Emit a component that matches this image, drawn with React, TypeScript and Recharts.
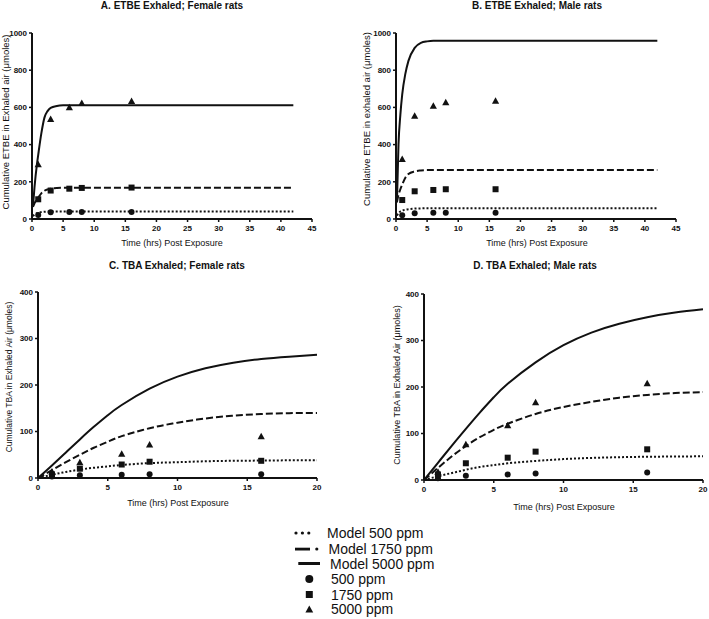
import React from "react";
import { ComposedChart, Line, Scatter, XAxis, YAxis } from "recharts";

// observation times (hrs)
const obsTimes = [1, 3, 6, 8, 16];

// A. ETBE exhaled, female rats
const etbeF500 = [22, 36, 38, 38, 38];
const etbeF1750 = [106, 153, 163, 167, 169];
const etbeF5000 = [294, 537, 601, 623, 634];
const etbeFModelT = [0.15, 0.4, 0.8, 1, 1.5, 2, 2.5, 3, 4, 5, 6, 42];
const etbeFModel500 = [15, 24, 31, 34, 37, 39, 40, 40, 40, 40, 40, 40];
const etbeFModel1750 = [65, 85, 105, 115, 138, 152, 159, 163, 167, 168, 168, 168];
const etbeFModel5000 = [65, 170, 296, 345, 460, 545, 580, 597, 607, 611, 612, 612];

// B. ETBE exhaled, male rats
const etbeM500 = [20, 31, 34, 34, 34];
const etbeM1750 = [102, 149, 156, 160, 160];
const etbeM5000 = [323, 555, 609, 628, 636];
const etbeMModelT = [0.15, 0.4, 0.7, 1, 1.5, 2, 3, 4, 5, 6, 42];
const etbeMModel500 = [18, 32, 40, 45, 50, 53, 56, 57, 58, 58, 58];
const etbeMModel1750 = [90, 130, 160, 185, 222, 242, 256, 261, 263, 263, 263];
const etbeMModel5000 = [90, 400, 560, 670, 780, 850, 920, 947, 955, 958, 959];

// C. TBA exhaled, female rats
const tbaF500 = [3, 6, 7, 8, 8];
const tbaF1750 = [8, 20, 29, 35, 37];
const tbaF5000 = [14, 34, 52, 72, 90];
const tbaModelT = [0, 1, 2, 3, 4, 5, 6, 8, 10, 12, 14, 16, 18, 20];
const tbaFModel500 = [0, 7, 13, 18, 22, 25, 28, 32, 34, 36, 37, 37.5, 38, 38];
const tbaFModel1750 = [0, 17, 34, 50, 65, 78, 90, 107, 119, 128, 134, 137.5, 139.5, 140];
const tbaFModel5000 = [0, 27, 55, 83, 110, 135, 157, 192, 218, 236, 248, 256, 261, 265];

// D. TBA exhaled, male rats
const tbaM500 = [4, 9, 12, 14, 16];
const tbaM1750 = [12, 36, 48, 61, 66];
const tbaM5000 = [18, 77, 118, 167, 208];
const tbaMModel500 = [0, 8, 15, 22, 28, 32, 36, 41, 45, 47.5, 49, 50, 50.5, 51];
const tbaMModel1750 = [0, 26, 51, 73, 92, 108, 121, 142, 157, 168, 177, 183, 187, 189];
const tbaMModel5000 = [0, 37, 74, 110, 145, 178, 207, 253, 290, 317, 336, 350, 360, 367];

const etbeXTicks = [0, 5, 10, 15, 20, 25, 30, 35, 40, 45];
const etbeYTicks = [0, 200, 400, 600, 800, 1000];
const tbaXTicks = [0, 5, 10, 15, 20];
const tbaYTicks = [0, 100, 200, 300, 400];

const FONT = "'Liberation Sans', Arial, sans-serif";
const INK = "#111";

const pts = (ts: number[], vs: number[]) => ts.map((t, i) => ({ t, v: vs[i] }));

const CircleDot = (p: any) => <circle cx={p.cx} cy={p.cy} r={3} fill={INK} />;
const SquareDot = (p: any) => (
  <rect x={p.cx - 3} y={p.cy - 3} width={6} height={6} fill={INK} />
);
const TriDot = (p: any) => (
  <polygon
    points={`${p.cx},${p.cy - 3.5} ${p.cx + 3.6},${p.cy + 3} ${p.cx - 3.6},${p.cy + 3}`}
    fill={INK}
  />
);

const YW = 40;
const XH = 24;

function Panel({ rect, xDomain, xTicks, yDomain, yTicks, modelT, models, obs, curve }: any) {
  const plotW = rect.right - rect.left;
  const plotH = rect.bottom - rect.top;
  return (
    <div style={{ position: "absolute", left: rect.left - YW, top: rect.top - 5 }}>
      <ComposedChart
        width={plotW + YW + 6}
        height={plotH + 5 + XH}
        margin={{ top: 5, right: 6, bottom: 0, left: 0 }}
      >
        <XAxis
          type="number"
          dataKey="t"
          domain={xDomain}
          ticks={xTicks}
          height={XH}
          tickSize={3}
          tickMargin={3}
          axisLine={{ stroke: INK, strokeWidth: 2 }}
          tickLine={{ stroke: INK, strokeWidth: 1.5 }}
          tick={{ fontSize: 8, fontWeight: 700, fill: INK }}
        />
        <YAxis
          type="number"
          dataKey="v"
          domain={yDomain}
          ticks={yTicks}
          width={YW}
          tickSize={3}
          tickMargin={2}
          axisLine={{ stroke: INK, strokeWidth: 2 }}
          tickLine={{ stroke: INK, strokeWidth: 1.5 }}
          tick={{ fontSize: 8, fontWeight: 700, fill: INK }}
        />
        <Line data={pts(modelT, models[0])} dataKey="v" type={curve} stroke={INK}
          strokeWidth={2} strokeDasharray="2 2" dot={false} isAnimationActive={false} />
        <Line data={pts(modelT, models[1])} dataKey="v" type={curve} stroke={INK}
          strokeWidth={2} strokeDasharray="7 3" dot={false} isAnimationActive={false} />
        <Line data={pts(modelT, models[2])} dataKey="v" type={curve} stroke={INK}
          strokeWidth={2} dot={false} isAnimationActive={false} />
        <Scatter data={pts(obsTimes, obs[0])} dataKey="v" shape={CircleDot} isAnimationActive={false} />
        <Scatter data={pts(obsTimes, obs[1])} dataKey="v" shape={SquareDot} isAnimationActive={false} />
        <Scatter data={pts(obsTimes, obs[2])} dataKey="v" shape={TriDot} isAnimationActive={false} />
      </ComposedChart>
    </div>
  );
}

function Txt({ x, y, size, bold, rotate, children }: any) {
  return (
    <div
      style={{
        position: "absolute",
        left: x,
        top: y,
        fontSize: size,
        fontWeight: bold ? 700 : 400,
        whiteSpace: "nowrap",
        lineHeight: 1,
        color: INK,
        transform: `translate(-50%, -50%)${rotate ? " rotate(-90deg)" : ""}`,
      }}
    >
      {children}
    </div>
  );
}

function LegendBox() {
  const rows = [
    { y: 533, x: 327, label: "Model 500 ppm" },
    { y: 549, x: 328.5, label: "Model 1750 ppm" },
    { y: 563.5, x: 330, label: "Model 5000 ppm" },
    { y: 579, x: 331, label: "500 ppm" },
    { y: 594.5, x: 331, label: "1750 ppm" },
    { y: 609, x: 331, label: "5000 ppm" },
  ];
  return (
    <svg width={709} height={619} style={{ position: "absolute", left: 0, top: 0 }}>
      <circle cx={296} cy={533} r={1.6} fill={INK} />
      <circle cx={302.4} cy={533} r={1.6} fill={INK} />
      <circle cx={308.8} cy={533} r={1.6} fill={INK} />
      <rect x={295} y={547.7} width={15} height={2.8} fill={INK} />
      <circle cx={316.8} cy={549} r={1.6} fill={INK} />
      <rect x={298.3} y={562} width={21.7} height={3} fill={INK} />
      <circle cx={309.3} cy={579} r={4} fill={INK} />
      <rect x={305.8} y={591} width={7} height={7} fill={INK} />
      <polygon points="309.3,605.5 313.2,612.4 305.4,612.4" fill={INK} />
      {rows.map((r) => (
        <text key={r.label} x={r.x} y={r.y} dominantBaseline="central" fontSize={14}
          fontFamily={FONT} fill={INK}>
          {r.label}
        </text>
      ))}
    </svg>
  );
}

export default function App() {
  return (
    <div
      style={{
        position: "absolute",
        left: 0,
        top: 0,
        width: 709,
        height: 619,
        background: "#fff",
        fontFamily: FONT,
        overflow: "hidden",
      }}
    >
      <Panel
        rect={{ left: 32, right: 312, top: 33, bottom: 219 }}
        xDomain={[0, 45]} xTicks={etbeXTicks} yDomain={[0, 1000]} yTicks={etbeYTicks}
        modelT={etbeFModelT} curve="monotone"
        models={[etbeFModel500, etbeFModel1750, etbeFModel5000]}
        obs={[etbeF500, etbeF1750, etbeF5000]}
      />
      <Panel
        rect={{ left: 396, right: 676, top: 33, bottom: 219 }}
        xDomain={[0, 45]} xTicks={etbeXTicks} yDomain={[0, 1000]} yTicks={etbeYTicks}
        modelT={etbeMModelT} curve="monotone"
        models={[etbeMModel500, etbeMModel1750, etbeMModel5000]}
        obs={[etbeM500, etbeM1750, etbeM5000]}
      />
      <Panel
        rect={{ left: 38, right: 317, top: 292, bottom: 478 }}
        xDomain={[0, 20]} xTicks={tbaXTicks} yDomain={[0, 400]} yTicks={tbaYTicks}
        modelT={tbaModelT} curve="natural"
        models={[tbaFModel500, tbaFModel1750, tbaFModel5000]}
        obs={[tbaF500, tbaF1750, tbaF5000]}
      />
      <Panel
        rect={{ left: 424, right: 703, top: 294, bottom: 480 }}
        xDomain={[0, 20]} xTicks={tbaXTicks} yDomain={[0, 400]} yTicks={tbaYTicks}
        modelT={tbaModelT} curve="natural"
        models={[tbaMModel500, tbaMModel1750, tbaMModel5000]}
        obs={[tbaM500, tbaM1750, tbaM5000]}
      />

      <Txt x={172} y={6} size={10} bold>A. ETBE Exhaled; Female rats</Txt>
      <Txt x={537} y={6} size={10} bold>B. ETBE Exhaled; Male rats</Txt>
      <Txt x={177} y={266} size={10} bold>C. TBA Exhaled; Female rats</Txt>
      <Txt x={535} y={266} size={10} bold>D. TBA Exhaled; Male rats</Txt>

      <Txt x={172} y={243} size={9}>Time (hrs) Post Exposure</Txt>
      <Txt x={537} y={243} size={9}>Time (hrs) Post Exposure</Txt>
      <Txt x={178} y={503} size={9}>Time (hrs) Post Exposure</Txt>
      <Txt x={564} y={507} size={9}>Time (hrs) Post Exposure</Txt>

      <Txt x={6} y={122} size={9.5} rotate>Cumulative ETBE in Exhaled air (μmoles)</Txt>
      <Txt x={367} y={119} size={9.5} rotate>Cumulative ETBE in exhaled air (μmoles)</Txt>
      <Txt x={9} y={377} size={8.5} rotate>Cumulative TBA in Exhaled Air (μmoles)</Txt>
      <Txt x={397} y={385} size={9} rotate>Cumulative TBA in Exhaled Air (μmoles)</Txt>

      <LegendBox />
    </div>
  );
}
